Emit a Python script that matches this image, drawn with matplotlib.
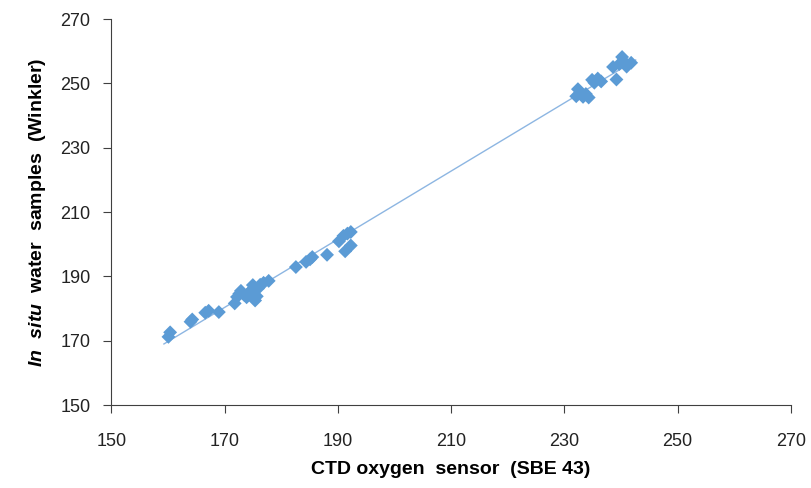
import numpy as np
import matplotlib.pyplot as plt

plt.rcParams['font.family'] = ['Liberation Sans', 'DejaVu Sans']
plt.rcParams['mathtext.fontset'] = 'custom'
plt.rcParams['mathtext.it'] = 'Liberation Sans:italic:bold'
plt.rcParams['mathtext.rm'] = 'Liberation Sans:bold'

# CTD sensor (x) vs Winkler samples (y)
ctd = [160.1, 160.4, 164.0, 164.3, 166.6, 167.2, 169.0, 171.8, 172.2, 172.6,
       172.9, 173.5, 173.9, 174.3, 174.8, 175.0, 175.4, 175.7, 175.9, 176.3,
       176.9, 177.8, 182.6, 184.4, 185.1, 185.5, 188.1, 190.2, 191.0, 191.7,
       192.3, 191.3, 192.3,
       232.1, 232.4, 232.8, 233.3, 233.8, 234.3, 234.9, 235.3, 235.9, 236.5,
       238.6, 239.2, 239.7, 240.2, 240.5, 241.0, 241.8]
winkler = [171.2, 172.6, 175.9, 176.6, 178.7, 179.3, 178.9, 181.6, 183.6, 184.6,
           185.5, 184.2, 183.5, 184.9, 185.8, 187.3, 182.5, 183.8, 186.2, 187.4,
           188.0, 188.6, 192.9, 194.5, 195.3, 196.0, 196.7, 200.9, 202.6, 203.3,
           203.8, 197.8, 199.6,
           246.0, 248.2, 246.9, 245.8, 246.7, 245.6, 251.1, 250.2, 251.5, 250.6,
           255.1, 251.2, 256.0, 258.2, 256.8, 255.2, 256.4]
ticks = [150, 170, 190, 210, 230, 250, 270]

x = np.array(ctd)
y = np.array(winkler)
slope, icpt = np.polyfit(x, y, 1)
xl = np.array([x.min() - 0.8, x.max() + 0.8])

fig = plt.figure(figsize=(8.12, 4.88), dpi=100)
ax = fig.add_axes([0.137, 0.170, 0.837, 0.791])

ax.plot(xl, slope * xl + icpt, color='#8DB6E2', lw=1.0, zorder=1)
ax.scatter(x, y, marker='D', s=50, color='#5B9BD5', edgecolors='none', zorder=2)

ax.set_xlim(150, 270)
ax.set_ylim(150, 270)
ax.set_xticks(ticks)
ax.set_yticks(ticks)
ax.tick_params(direction='out', length=6, color='#404040', labelsize=13, labelcolor='#222222')
ax.tick_params(axis='x', pad=14)
ax.tick_params(axis='y', pad=9)
for s in ['top', 'right']:
    ax.spines[s].set_visible(False)
for s in ['left', 'bottom']:
    ax.spines[s].set_color('#404040')

ax.set_xlabel('CTD oxygen  sensor  (SBE 43)', fontsize=14, fontweight='bold', labelpad=8)
ax.set_ylabel(r'$\mathit{In\ \ situ}$  water  samples  (Winkler)', fontsize=14,
              fontweight='bold', labelpad=9)

fig.savefig('out.png', dpi=100)
